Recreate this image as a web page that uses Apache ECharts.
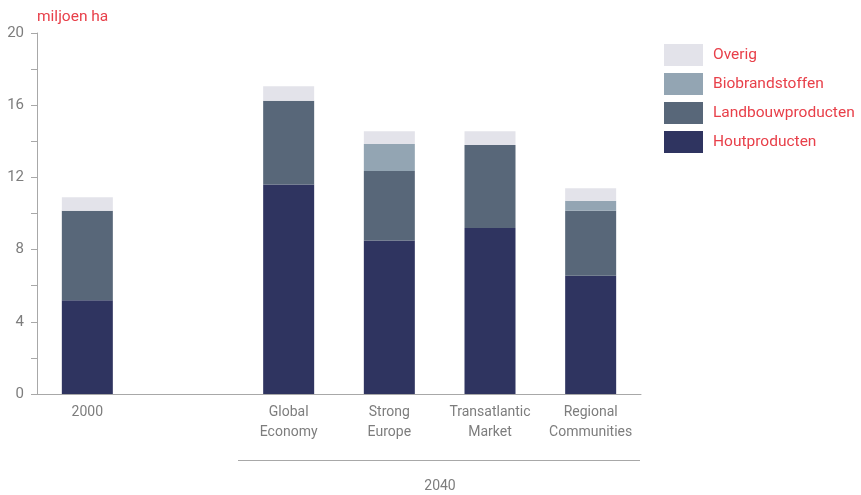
<!DOCTYPE html>
<html>
<head>
<meta charset="utf-8">
<script src="https://cdn.jsdelivr.net/npm/echarts@6/dist/echarts.min.js"></script>
<style>
  html, body { margin: 0; padding: 0; background: #fff; }
  #chart { width: 861px; height: 495px; }
</style>
</head>
<body>
<div id="chart"></div>
<script>
// Land use in million hectares: 2000 and four 2040 scenarios (one empty slot as spacer)
const categories = ['2000', '', 'Global\nEconomy', 'Strong\nEurope', 'Transatlantic\nMarket', 'Regional\nCommunities'];
const houtproducten     = [5.2,  null, 11.6, 8.5,  9.2,  6.55];
const landbouwproducten = [4.95, null, 4.65, 3.85, 4.6,  3.6];
const biobrandstoffen   = [0,    null, 0,    1.5,  0,    0.55];
const overig            = [0.75, null, 0.8,  0.7,  0.75, 0.7];
const yTicks = [0, 4, 8, 12, 16, 20];
const groupLabel = '2040';
const unitLabel = 'miljoen ha';

const FONT = 'Roboto, "Noto Sans", sans-serif';
const GREY = '#7d7d7d';
const RED = '#e8404a';

const seriesDefs = [
  { name: 'Houtproducten', data: houtproducten, color: '#2f3460' },
  { name: 'Landbouwproducten', data: landbouwproducten, color: '#586779' },
  { name: 'Biobrandstoffen', data: biobrandstoffen, color: '#93a5b3' },
  { name: 'Overig', data: overig, color: '#e3e3ea' }
];

const chart = echarts.init(document.getElementById('chart'), null, { renderer: 'canvas' });

chart.setOption({
  animation: false,
  textStyle: { fontFamily: FONT },
  grid: { left: 37, right: 220, top: 33, bottom: 101, containLabel: false },
  legend: {
    orient: 'vertical',
    left: 659,
    top: 39,
    itemWidth: 39,
    itemHeight: 22,
    itemGap: 7,
    icon: 'rect',
    data: ['Overig', 'Biobrandstoffen', 'Landbouwproducten', 'Houtproducten'],
    textStyle: { color: RED, fontSize: 15.5, fontFamily: FONT, padding: [0, 0, 0, 5] }
  },
  xAxis: {
    type: 'category',
    data: categories,
    axisLine: { lineStyle: { color: '#a8a8a8', width: 1 } },
    axisTick: { show: false },
    axisLabel: { color: GREY, fontSize: 14, lineHeight: 20, margin: 8, interval: 0, fontFamily: FONT }
  },
  yAxis: {
    type: 'value',
    min: 0,
    max: 20,
    interval: 2,
    name: unitLabel,
    nameLocation: 'end',
    nameGap: 8,
    nameTextStyle: { color: RED, fontSize: 15.5, align: 'left', padding: [0, 0, 0, 0], fontFamily: FONT },
    axisLine: { show: true, lineStyle: { color: '#a8a8a8', width: 1 } },
    axisTick: { show: true, inside: false, length: 6, lineStyle: { color: '#a8a8a8' } },
    splitLine: { show: false },
    axisLabel: {
      color: GREY, fontSize: 15, margin: 13, fontFamily: FONT,
      formatter: v => (yTicks.indexOf(v) >= 0 ? String(v) : '')
    }
  },
  series: seriesDefs.map(s => ({
    name: s.name,
    type: 'bar',
    stack: 'total',
    barWidth: 51,
    data: s.data,
    itemStyle: { color: s.color },
    emphasis: { disabled: true }
  })),
  graphic: [
    {
      type: 'line',
      shape: { x1: 238, y1: 460.5, x2: 640, y2: 460.5 },
      style: { stroke: '#a8a8a8', lineWidth: 1 }
    },
    {
      type: 'text',
      x: 440, y: 486,
      style: { text: groupLabel, fill: GREY, font: '14px ' + FONT, textAlign: 'center', textVerticalAlign: 'middle' }
    }
  ]
});
</script>
</body>
</html>
